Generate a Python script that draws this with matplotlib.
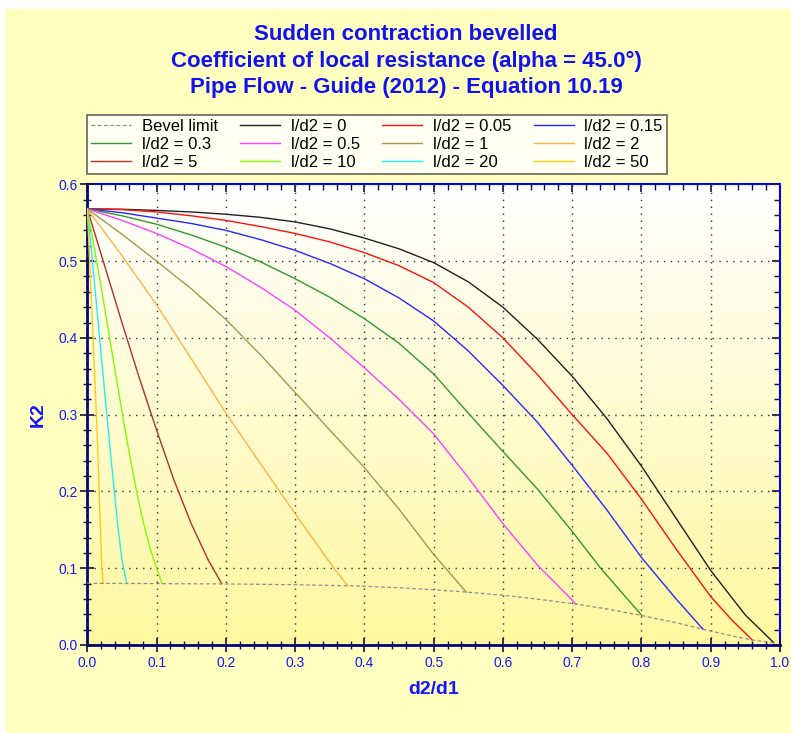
import numpy as np
import matplotlib
matplotlib.use('Agg')
import matplotlib.pyplot as plt
from matplotlib.patches import Rectangle
from matplotlib.colors import LinearSegmentedColormap
from matplotlib.ticker import MultipleLocator

plt.rcParams['font.family'] = ['Liberation Sans', 'DejaVu Sans']

# values (d2/d1 -> K2)
bevel_x = [0.0, 0.1, 0.2, 0.3, 0.375, 0.4, 0.45, 0.5, 0.547, 0.6, 0.65, 0.706, 0.75,
           0.8, 0.85, 0.889, 0.93, 0.96, 0.991]
bevel_k = [0.0803, 0.0800, 0.0795, 0.0785, 0.0772, 0.0765, 0.0745, 0.0720, 0.0690, 0.0648,
           0.0597, 0.0532, 0.0470, 0.0385, 0.0290, 0.0204, 0.0120, 0.0065, 0.003]

x_ld0 = [0.0, 0.05, 0.1, 0.15, 0.2, 0.25, 0.3, 0.35, 0.4, 0.45, 0.5, 0.55, 0.6, 0.65,
         0.7, 0.75, 0.8, 0.85, 0.9, 0.95, 0.991]
k_ld0 = [0.568, 0.5675, 0.566, 0.564, 0.561, 0.557, 0.551, 0.542, 0.530, 0.516, 0.498,
         0.473, 0.440, 0.398, 0.350, 0.295, 0.233, 0.165, 0.097, 0.039, 0.003]

x_ld005 = [0.0, 0.05, 0.1, 0.15, 0.2, 0.25, 0.3, 0.35, 0.4, 0.45, 0.5, 0.55, 0.6, 0.65,
           0.7, 0.75, 0.8, 0.85, 0.9, 0.93, 0.96]
k_ld005 = [0.568, 0.567, 0.564, 0.559, 0.553, 0.545, 0.536, 0.525, 0.511, 0.494, 0.472,
           0.440, 0.400, 0.352, 0.300, 0.250, 0.190, 0.125, 0.063, 0.033, 0.0065]

x_ld015 = [0.0, 0.05, 0.1, 0.15, 0.2, 0.25, 0.3, 0.35, 0.4, 0.45, 0.5, 0.55, 0.6, 0.65,
           0.7, 0.75, 0.8, 0.85, 0.889]
k_ld015 = [0.568, 0.563, 0.556, 0.549, 0.540, 0.528, 0.514, 0.497, 0.477, 0.452, 0.422,
           0.383, 0.338, 0.290, 0.234, 0.176, 0.114, 0.060, 0.0204]

x_ld03 = [0.0, 0.05, 0.1, 0.15, 0.2, 0.25, 0.3, 0.35, 0.4, 0.45, 0.5, 0.55, 0.6, 0.65,
          0.7, 0.741, 0.8]
k_ld03 = [0.568, 0.559, 0.548, 0.534, 0.518, 0.499, 0.477, 0.453, 0.425, 0.393, 0.353,
          0.302, 0.252, 0.203, 0.148, 0.100, 0.039]

x_ld05 = [0.0, 0.05, 0.1, 0.15, 0.2, 0.25, 0.3, 0.35, 0.4, 0.45, 0.5, 0.55, 0.6, 0.65, 0.706]
k_ld05 = [0.568, 0.553, 0.536, 0.516, 0.493, 0.466, 0.436, 0.400, 0.361, 0.320, 0.275,
          0.218, 0.158, 0.104, 0.053]

x_ld1 = [0.0, 0.05, 0.1, 0.15, 0.2, 0.25, 0.3, 0.35, 0.4, 0.45, 0.5, 0.547]
k_ld1 = [0.568, 0.535, 0.500, 0.464, 0.424, 0.378, 0.329, 0.280, 0.231, 0.177, 0.118, 0.069]

x_ld2 = [0.0, 0.05, 0.1, 0.15, 0.2, 0.25, 0.3, 0.356, 0.376]
k_ld2 = [0.568, 0.507, 0.443, 0.373, 0.302, 0.236, 0.171, 0.100, 0.077]

x_ld5 = [0.0, 0.025, 0.05, 0.075, 0.1, 0.125, 0.15, 0.175, 0.194]
k_ld5 = [0.568, 0.494, 0.420, 0.348, 0.280, 0.215, 0.158, 0.110, 0.080]

x_ld10 = [0.0, 0.01, 0.02, 0.03, 0.04, 0.05, 0.06, 0.07, 0.08, 0.09, 0.1, 0.108]
k_ld10 = [0.568, 0.518, 0.466, 0.412, 0.358, 0.304, 0.253, 0.205, 0.163, 0.128, 0.100, 0.080]

x_ld20 = [0.0, 0.005, 0.01, 0.015, 0.02, 0.025, 0.03, 0.035, 0.04, 0.045, 0.05, 0.057]
k_ld20 = [0.568, 0.522, 0.475, 0.427, 0.378, 0.330, 0.283, 0.236, 0.191, 0.148, 0.111, 0.080]

x_ld50 = [0.0, 0.005, 0.01, 0.015, 0.019, 0.021, 0.023]
k_ld50 = [0.568, 0.468, 0.365, 0.258, 0.150, 0.102, 0.080]

labels = ['l/d2 = 0', 'l/d2 = 0.05', 'l/d2 = 0.15', 'l/d2 = 0.3', 'l/d2 = 0.5',
          'l/d2 = 1', 'l/d2 = 2', 'l/d2 = 5', 'l/d2 = 10', 'l/d2 = 20', 'l/d2 = 50']
colors = ['#202020', '#FF1010', '#2828FF', '#2E9A2E', '#FF40FF', '#A09A50',
          '#FFB347', '#B03030', '#80FF00', '#20F0F0', '#FFCC10']
curves = [(x_ld0, k_ld0), (x_ld005, k_ld005), (x_ld015, k_ld015), (x_ld03, k_ld03),
          (x_ld05, k_ld05), (x_ld1, k_ld1), (x_ld2, k_ld2), (x_ld5, k_ld5),
          (x_ld10, k_ld10), (x_ld20, k_ld20), (x_ld50, k_ld50)]

W, H = 791, 733
fig = plt.figure(figsize=(W/100, H/100), dpi=100, facecolor='white')
fig.patches.append(Rectangle((5/W, 0), 1, 1 - 9/H, transform=fig.transFigure,
                             facecolor='#FFFFC0', edgecolor='none', zorder=-5))

ax = fig.add_axes([87.3/W, (H-645)/H, (780-87.3)/W, (645-184.3)/H])

# white -> yellow background gradient in plot area
cm = LinearSegmentedColormap.from_list('bg', ['#FFF8A0', '#FFFFFF'])
grad = np.linspace(0, 1, 256).reshape(-1, 1)
ax.imshow(grad, extent=[0, 1, 0, 0.6], aspect='auto', cmap=cm, origin='lower', zorder=0)

handles = []
h, = ax.plot(bevel_x, bevel_k, color='#909090', lw=0.9, ls=(0, (3, 2)), zorder=4, label='Bevel limit')
handles.append(h)
for (xs, ks), lab, c in zip(curves, labels, colors):
    h, = ax.plot(xs, ks, color=c, lw=1.0, zorder=3, label=lab)
    handles.append(h)

ax.set_xlim(0, 1)
ax.set_ylim(0, 0.6)
ax.xaxis.set_major_locator(MultipleLocator(0.1))
ax.xaxis.set_minor_locator(MultipleLocator(0.02))
ax.yaxis.set_major_locator(MultipleLocator(0.1))
ax.yaxis.set_minor_locator(MultipleLocator(0.02))
ax.xaxis.set_major_formatter(plt.FormatStrFormatter('%.1f'))
ax.yaxis.set_major_formatter(plt.FormatStrFormatter('%.1f'))
ax.grid(True, which='major', color='#303030', ls=(0, (1, 4)), lw=1.0, zorder=1)
ax.set_axisbelow(False)

ax.tick_params(which='major', direction='inout', length=10, width=1.2, color='#101040',
               labelsize=10, labelcolor='#1515FF', pad=3)
ax.tick_params(which='minor', direction='inout', length=6, width=1.0, color='#101040')
ax.tick_params(axis='y', pad=2)

for s in ['left', 'bottom']:
    ax.spines[s].set_color('#000080')
    ax.spines[s].set_linewidth(2)
ax.spines['top'].set_visible(False)
ax.spines['right'].set_visible(False)

secx = ax.secondary_xaxis('top')
secx.xaxis.set_major_locator(MultipleLocator(0.1))
secx.xaxis.set_minor_locator(MultipleLocator(0.02))
secx.tick_params(which='major', direction='in', length=6, width=1.2, color='#101040', labeltop=False)
secx.tick_params(which='minor', direction='in', length=4, width=1.0, color='#101040')
secx.spines['top'].set_color('#0000FF')
secx.spines['top'].set_linewidth(1.5)

secy = ax.secondary_yaxis('right')
secy.yaxis.set_major_locator(MultipleLocator(0.1))
secy.yaxis.set_minor_locator(MultipleLocator(0.02))
secy.tick_params(which='major', direction='in', length=6, width=1.2, color='#101040', labelright=False)
secy.tick_params(which='minor', direction='in', length=4, width=1.0, color='#101040')
secy.spines['right'].set_color('#0000FF')
secy.spines['right'].set_linewidth(1.5)

ax.set_xlabel('d2/d1', color='#1515FF', fontsize=14, fontweight='bold', labelpad=8)
ax.set_ylabel('K2', color='#1515FF', fontsize=14, fontweight='bold', labelpad=8)

title_lines = ['Sudden contraction bevelled',
               'Coefficient of local resistance (alpha = 45.0°)',
               'Pipe Flow - Guide (2012) - Equation 10.19']
for i, t in enumerate(title_lines):
    fig.text(406/W, 1 - (35 + 26*i)/H, t, ha='center', va='center',
             color='#1212F0', fontsize=16, fontweight='bold')

# legend laid out row by row like the original
order = [i for col in range(4) for i in (col, col + 4, col + 8)]
leg = fig.legend([handles[i] for i in order], [handles[i].get_label() for i in order],
                 loc='upper left', bbox_to_anchor=(87/W, 1 - 115/H, (667-87)/W, 0.0),
                 mode='expand', ncol=4, fontsize=12, frameon=True, fancybox=False,
                 borderpad=0.25, labelspacing=0.18, handlelength=2.4, handletextpad=0.65,
                 borderaxespad=0, columnspacing=0.8)
leg.get_frame().set_edgecolor('#404040')
leg.get_frame().set_linewidth(1.2)
leg.get_frame().set_facecolor('white')

fig.savefig('out.png', dpi=100, facecolor=fig.get_facecolor())
